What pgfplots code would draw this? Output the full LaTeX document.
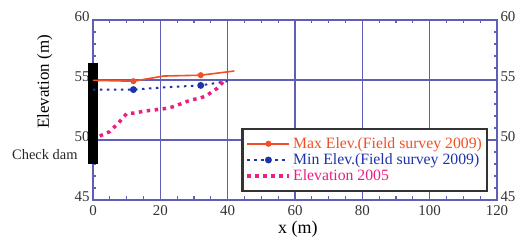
\documentclass[border=0pt]{standalone}
\usepackage{fontspec}
\setmainfont{Liberation Serif}
\usepackage{pgfplots}
\pgfplotsset{compat=1.18}
\definecolor{gridblue}{RGB}{95,95,185}
\definecolor{maxred}{RGB}{240,80,40}
\definecolor{minblue}{RGB}{30,50,170}
\definecolor{pinkc}{RGB}{235,30,130}
\begin{document}
\begin{tikzpicture}
\pgfplotsset{
  common/.style={
    scale only axis, width=404bp, height=180bp,
    at={(0,0)}, anchor=south west,
    xmin=0, xmax=120, ymin=45, ymax=60,
    xtick={0,20,...,120}, ytick={45,50,55,60},
    minor x tick num=3, minor y tick num=4,
    axis line style={gridblue, line width=1.6bp},
    every tick/.style={gridblue, line width=1.3bp},
    major tick length=5bp, minor tick length=3.5bp,
    tick align=inside,
    /pgf/number format/assume math mode=true,
    ticklabel style={font=\fontsize{15}{17}\selectfont, text=black!80},
    yticklabel style={yshift=3bp},
    xticklabel style={yshift=-2.5bp},
  }
}
\begin{axis}[common,
  xticklabel pos=bottom, yticklabel pos=left,
  grid=major, major grid style={gridblue, line width=1.6bp},
  clip=false,
  xlabel={x (m)}, ylabel={Elevation (m)},
  xlabel style={font=\fontsize{18}{20}\selectfont, at={(axis description cs:0.507,-0.163)}, anchor=center},
  ylabel style={font=\fontsize{17}{19}\selectfont, at={(axis description cs:-0.119,0.656)}, anchor=center},
  legend style={at={(axis description cs:0.978,0.044)}, anchor=south east,
    draw=black!80, line width=2.5bp, fill=white,
    font=\fontsize{15.8}{17}\selectfont, row sep=3bp, inner xsep=3bp, inner ysep=8bp,
    nodes={inner ysep=0.4bp},
    cells={anchor=west}},
  legend image code/.code={\draw[#1] plot coordinates {(0cm,0cm)(0.74cm,0cm)(1.48cm,0cm)};},
]
\addplot[black, line width=10bp, forget plot] coordinates {(0,48.0)(0,56.4)};
\addplot[maxred, line width=1.6bp, mark=*, mark size=2.2bp, mark indices={2,4}] coordinates {(0,54.97)(12,54.9)(21,55.33)(32,55.4)(42,55.75)};
\addlegendentry{\textcolor{maxred}{Max Elev.(Field survey 2009)}}
\addplot[minblue, line width=2bp, dash pattern=on 2.5bp off 4.5bp, mark=*, mark size=2.4bp, mark indices={2,4}, mark options={solid}] coordinates {(0,54.2)(12,54.2)(22,54.4)(32,54.55)(40,54.9)};
\addlegendentry{\textcolor{minblue}{Min Elev.(Field survey 2009)}}
\addplot[pinkc, line width=3.5bp, dash pattern=on 3.5bp off 4.5bp] coordinates {(2,50.33)(5,50.7)(7.5,51.4)(10,52.2)(12.5,52.25)(15,52.4)(18,52.5)(21,52.6)(23.5,52.75)(26,53.0)(29,53.33)(32,53.5)(34,53.75)(37,54.33)(39.5,55.1)};
\addlegendentry{\textcolor{pinkc}{Elevation 2005}}
\node[font=\fontsize{14.5}{16}\selectfont, text=black!85] at (axis description cs:-0.119,0.25) {Check dam};
\end{axis}
\begin{axis}[common,
  xticklabels={}, yticklabel pos=right,
  axis line style={draw=none}, every tick/.style={draw=none}]
\end{axis}
\pgfresetboundingbox
\path (-93bp,-40bp) rectangle (429bp,200bp);
\end{tikzpicture}
\end{document}
